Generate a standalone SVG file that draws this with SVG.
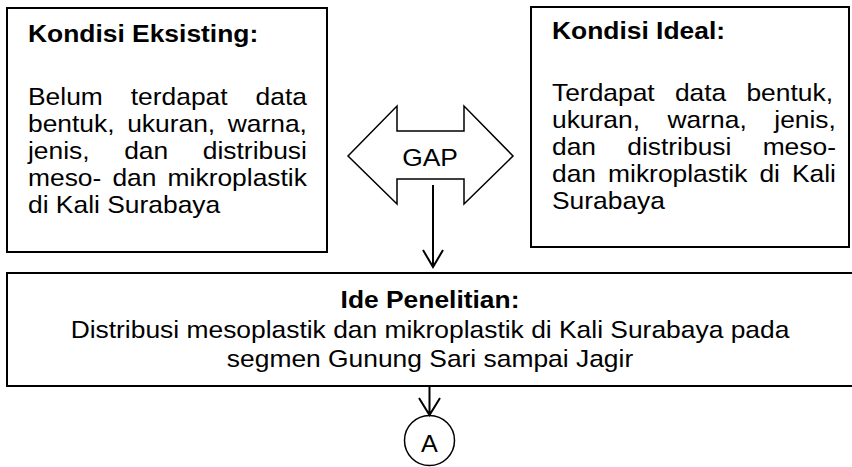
<svg xmlns="http://www.w3.org/2000/svg" width="852" height="467" viewBox="0 0 852 467">
  <style>
    .box { fill: #fff; stroke: #000; stroke-width: 2; }
    .shape { fill: #fff; stroke: #000; stroke-width: 1.5; }
    .line { fill: none; stroke: #000; stroke-width: 2; }
    text { font-family: "Liberation Sans", Arial, sans-serif; font-size: 24px; fill: #000; }
    .title { font-weight: bold; }
    .mid { text-anchor: middle; }
  </style>
  <rect width="852" height="467" fill="#fff"/>

  <!-- existing condition (text slightly widened, justified by word spacing) -->
  <g id="kondisi-eksisting">
    <rect class="box" x="7" y="8" width="320" height="244"/>
    <text class="title" transform="translate(28,42) scale(1.1,1)">Kondisi Eksisting:</text>
    <text transform="translate(28,105) scale(1.1,1)" word-spacing="18.77">Belum terdapat data</text>
    <text transform="translate(28,132) scale(1.1,1)" word-spacing="4.77">bentuk, ukuran, warna,</text>
    <text transform="translate(28,159) scale(1.1,1)" word-spacing="24.77">jenis, dan distribusi</text>
    <text transform="translate(28,186) scale(1.1,1)" word-spacing="3.45">meso- dan mikroplastik</text>
    <text transform="translate(28,213) scale(1.1,1)">di Kali Surabaya</text>
  </g>

  <!-- ideal condition -->
  <g id="kondisi-ideal">
    <rect class="box" x="531" y="7" width="318" height="240"/>
    <text class="title" transform="translate(552,39) scale(1.1,1)">Kondisi Ideal:</text>
    <text transform="translate(552,101) scale(1.1,1)" word-spacing="11.68">Terdapat data bentuk,</text>
    <text transform="translate(552,128) scale(1.1,1)" word-spacing="18.36">ukuran, warna, jenis,</text>
    <text transform="translate(552,155) scale(1.1,1)" word-spacing="21.73">dan distribusi meso-</text>
    <text transform="translate(552,182) scale(1.1,1)" word-spacing="4.27">dan mikroplastik di Kali</text>
    <text transform="translate(552,209) scale(1.1,1)">Surabaya</text>
  </g>

  <!-- double-headed gap arrow -->
  <g id="gap">
    <polygon class="shape" points="348,156 397,106 397,131 464,131 464,106 513,156 464,204 464,179 397,179 397,204"/>
    <text class="mid" transform="translate(430,166) scale(1.1,1)">GAP</text>
  </g>

  <!-- research idea -->
  <g id="ide-penelitian">
    <rect class="box" x="7" y="273" width="852" height="113"/>
    <text class="title mid" transform="translate(430,308) scale(1.1,1)">Ide Penelitian:</text>
    <text class="mid" transform="translate(430,338) scale(1.1,1)">Distribusi mesoplastik dan mikroplastik di Kali Surabaya pada</text>
    <text class="mid" transform="translate(430,367) scale(1.1,1)">segmen Gunung Sari sampai Jagir</text>
  </g>

  <!-- off-page connector -->
  <g id="connector-a">
    <circle class="shape" cx="429.5" cy="440.5" r="25"/>
    <text class="mid" transform="translate(429.5,452) scale(1.05,1)">A</text>
  </g>

  <!-- connectors -->
  <g id="connectors">
    <path class="line" d="M433,185 V266 M423,250 L433,267 L443,250"/>
    <path class="line" d="M429.5,387 V414 M419,398 L429.5,415 L440,398"/>
  </g>
</svg>
